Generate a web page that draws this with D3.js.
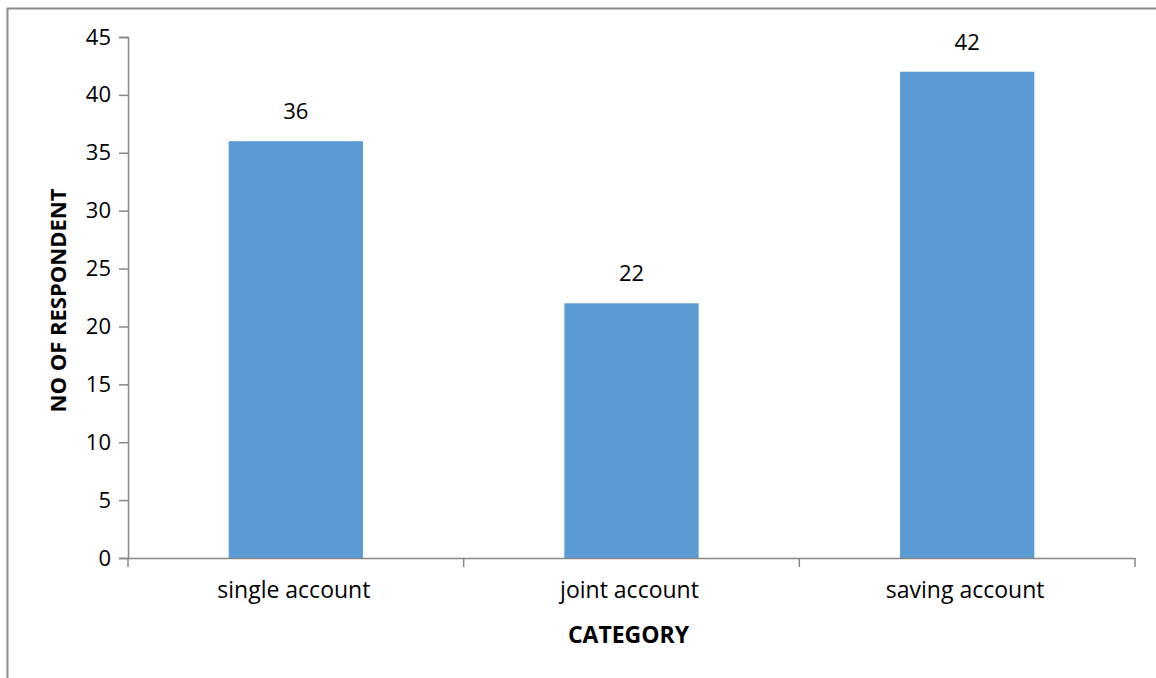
<!DOCTYPE html>
<html><head><meta charset="utf-8">
<script src="https://cdn.jsdelivr.net/npm/d3@7"></script>
<style>body{margin:0;background:#fff}svg{display:block}</style>
</head><body>
<script>
const categories = ["single account", "joint account", "saving account"];
const values = [36, 22, 42];
const yTicks = [0, 5, 10, 15, 20, 25, 30, 35, 40, 45];

(function () {
const W = 1156, H = 678;
const svg = d3.select("body").append("svg").attr("width", W).attr("height", H);
const font = "'Open Sans', sans-serif";
const fs = 22, fsL = 23;

// outer border
svg.append("rect").attr("x", 7.5).attr("y", 8.5).attr("width", W + 10).attr("height", H + 10)
  .attr("fill", "none").attr("stroke", "#8c8c8c").attr("stroke-width", 2);

const pLeft = 128, pRight = 1135, pTop = 37, pBottom = 558;
const x = d3.scaleBand().domain(categories).range([pLeft, pRight]).padding(0);
const y = d3.scaleLinear().domain([0, 45]).range([pBottom, pTop]);
const axisColor = "#868686";

// y axis
const ya = svg.append("g").attr("transform", `translate(${pLeft},0)`)
  .call(d3.axisLeft(y).tickValues(yTicks).tickSize(9).tickPadding(8));
ya.select(".domain").attr("stroke", axisColor).attr("stroke-width", 1.5);
ya.selectAll(".tick line").attr("stroke", axisColor).attr("stroke-width", 1.5);
ya.selectAll("text").attr("font-family", font).attr("font-size", fs).attr("fill", "#000");

// bars
const bw = x.bandwidth() * 0.4;
svg.append("g").selectAll("rect").data(values).join("rect")
  .attr("x", (d, i) => x(categories[i]) + (x.bandwidth() - bw) / 2)
  .attr("y", d => y(d))
  .attr("width", bw)
  .attr("height", d => y(0) - y(d))
  .attr("fill", "#5B9BD5");

// x axis
const xa = svg.append("g").attr("transform", `translate(0,${pBottom})`)
  .call(d3.axisBottom(x).tickSize(0).tickPadding(24));
xa.select(".domain").attr("stroke", axisColor).attr("stroke-width", 1.5);
xa.selectAll("text").attr("font-family", font).attr("font-size", fsL).attr("fill", "#000")
  .attr("dx", -2);
// category boundary ticks
const bounds = [pLeft].concat(categories.map(c => x(c) + x.bandwidth()));
svg.append("g").selectAll("line").data(bounds).join("line")
  .attr("x1", d => d).attr("x2", d => d).attr("y1", pBottom).attr("y2", pBottom + 9)
  .attr("stroke", axisColor).attr("stroke-width", 1.5);

// value labels
svg.append("g").selectAll("text").data(values).join("text")
  .attr("x", (d, i) => x(categories[i]) + x.bandwidth() / 2)
  .attr("y", d => y(d) - 22)
  .attr("text-anchor", "middle")
  .attr("font-family", font).attr("font-size", fs).attr("fill", "#000")
  .text(d => d);

// axis titles
svg.append("text").attr("x", (pLeft + pRight) / 2 - 3).attr("y", 643)
  .attr("text-anchor", "middle").attr("font-family", font).attr("font-size", fsL)
  .attr("font-weight", "bold").text("CATEGORY");
svg.append("text").attr("transform", `translate(66,${(pTop + pBottom) / 2 + 3}) rotate(-90)`)
  .attr("text-anchor", "middle").attr("font-family", font).attr("font-size", fs)
  .attr("font-weight", "bold").text("NO OF RESPONDENT");
})();
</script>
</body></html>
